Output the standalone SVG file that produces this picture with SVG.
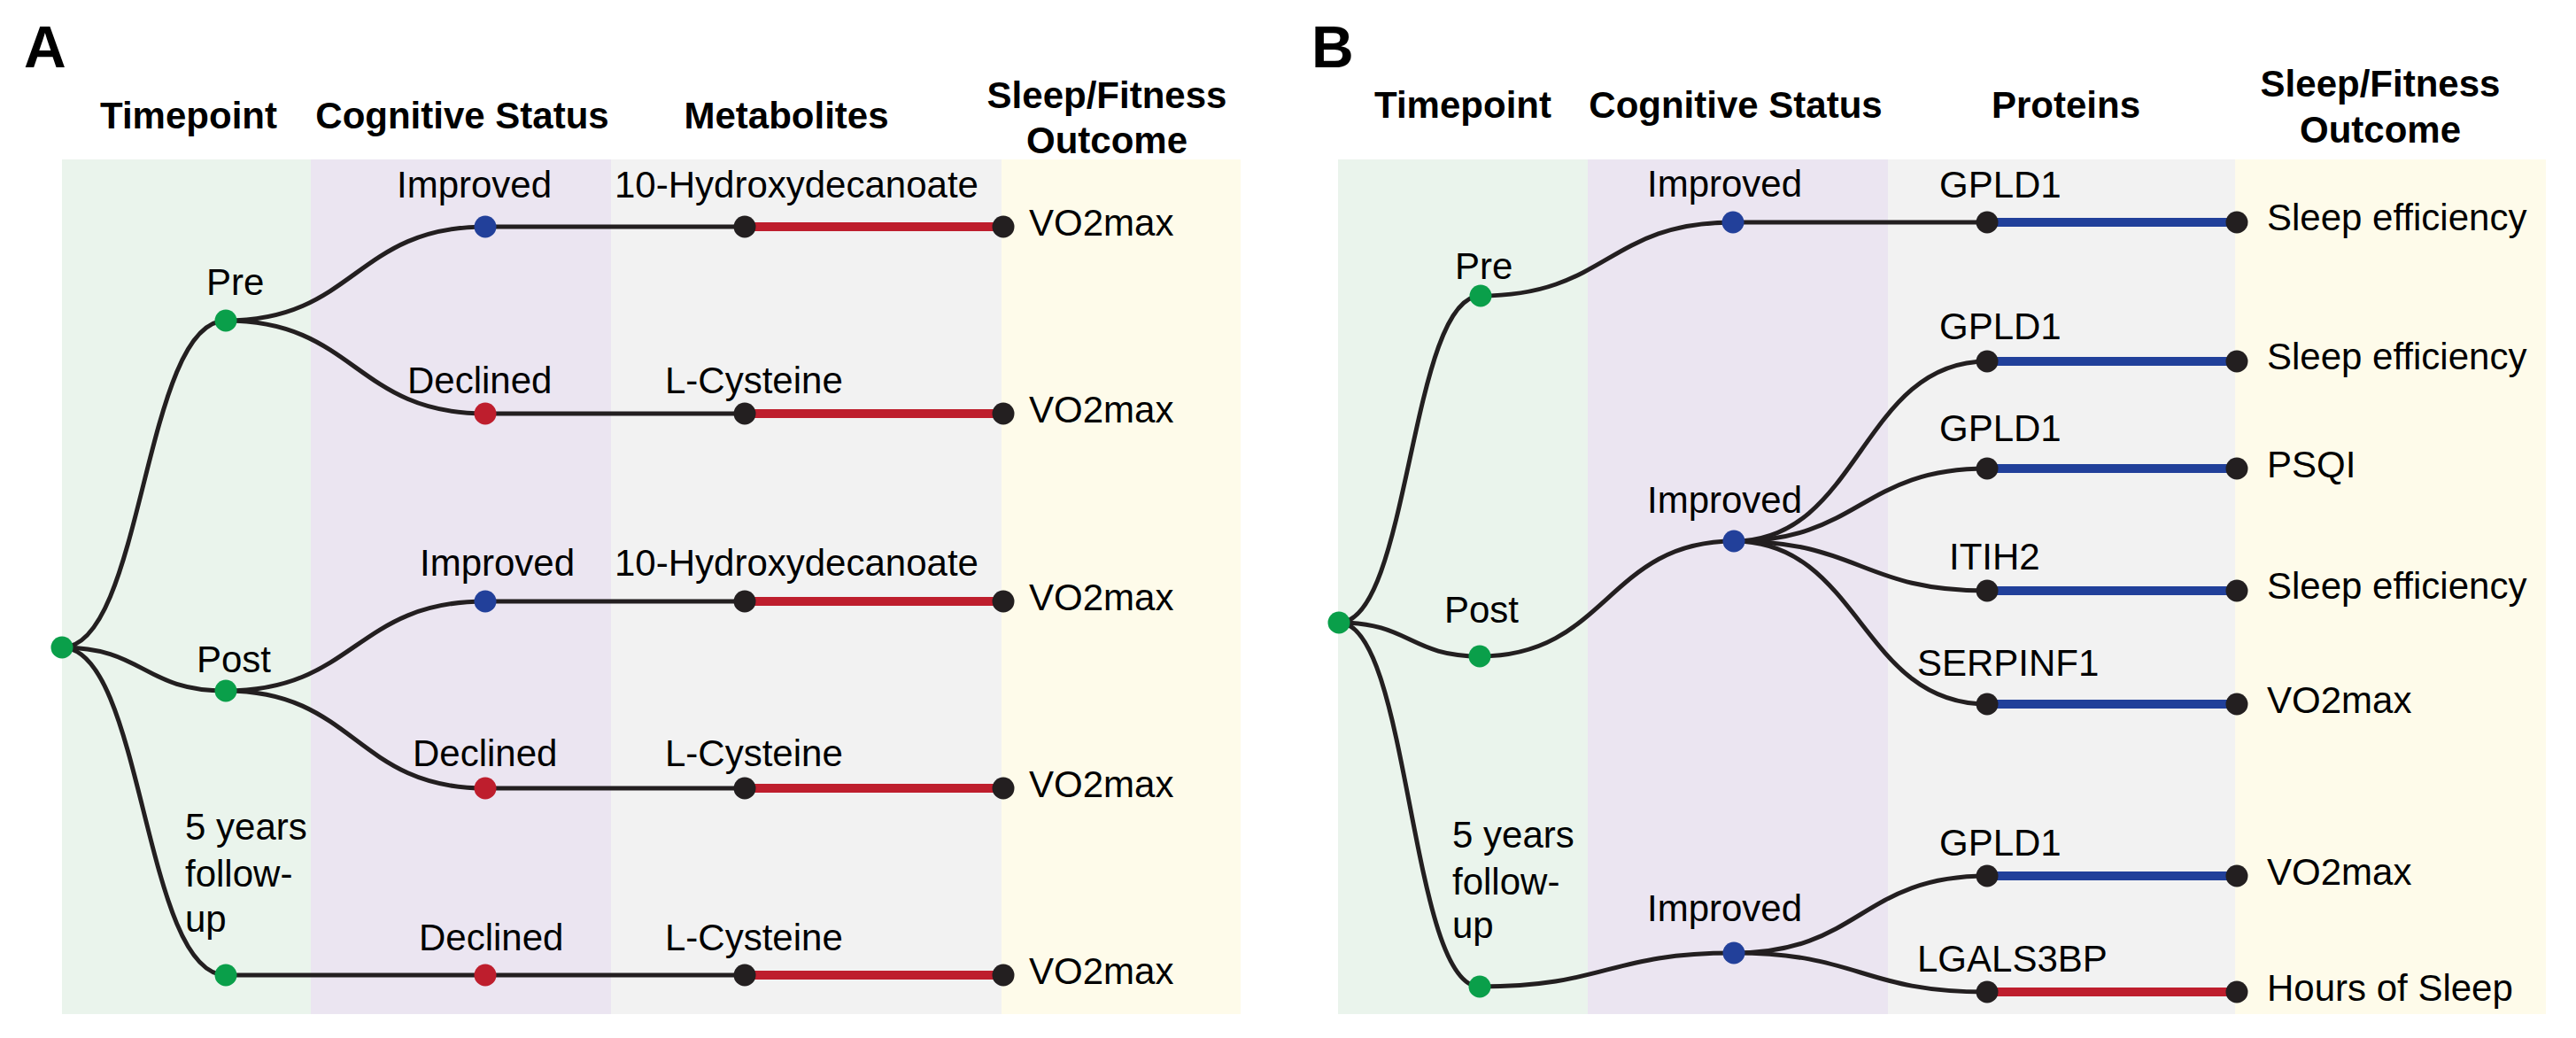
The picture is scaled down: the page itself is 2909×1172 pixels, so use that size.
<svg xmlns="http://www.w3.org/2000/svg" width="2909" height="1172" viewBox="0 0 2909 1172">
<style>
text{font-family:"Liberation Sans",Arial,sans-serif;fill:#000}
.hd{font-weight:bold;font-size:42px;text-anchor:middle}
.pl{font-weight:bold;font-size:66px}
.lb{font-size:42px}
.lk{fill:none;stroke:#231f20;stroke-width:5}
.red{stroke:#be1e2d;stroke-width:10;fill:none}
.blue{stroke:#21409a;stroke-width:10;fill:none}
.g{fill:#0a9f4a}.b{fill:#22409a}.r{fill:#be1e2d}.k{fill:#231f20}
</style>
<rect width="2909" height="1172" fill="#fff"/>
<g id="bands">
<rect x="70" y="180" width="281" height="965" fill="#eaf4ec"/>
<rect x="351" y="180" width="339" height="965" fill="#ebe5f1"/>
<rect x="690" y="180" width="441" height="965" fill="#f2f2f2"/>
<rect x="1131" y="180" width="270" height="965" fill="#fefbea"/>
<rect x="1511" y="180" width="282" height="965" fill="#eaf4ec"/>
<rect x="1793" y="180" width="339" height="965" fill="#ebe5f1"/>
<rect x="2132" y="180" width="392" height="965" fill="#f2f2f2"/>
<rect x="2524" y="180" width="351" height="965" fill="#fefbea"/>
</g>
<g id="headers">
<text class="pl" x="27" y="76">A</text>
<text class="hd" x="213" y="145">Timepoint</text>
<text class="hd" x="522" y="145">Cognitive Status</text>
<text class="hd" x="888" y="145">Metabolites</text>
<text class="hd" x="1250" y="122">Sleep/Fitness</text>
<text class="hd" x="1250" y="173">Outcome</text>
<text class="pl" x="1481" y="76">B</text>
<text class="hd" x="1652" y="133">Timepoint</text>
<text class="hd" x="1960" y="133">Cognitive Status</text>
<text class="hd" x="2333" y="133">Proteins</text>
<text class="hd" x="2688" y="109">Sleep/Fitness</text>
<text class="hd" x="2688" y="161">Outcome</text>
</g>
<g id="connectors">
<path class="lk" d="M70,731 C162,731 162,362 255,362"/>
<path class="lk" d="M70,731 C162,731 162,780 255,780"/>
<path class="lk" d="M70,731 C162,731 162,1101 255,1101"/>
<path class="lk" d="M255,362 C401,362 401,256 548,256"/>
<path class="lk" d="M255,362 C401,362 401,467 548,467"/>
<path class="lk" d="M255,780 C401,780 401,679 548,679"/>
<path class="lk" d="M255,780 C401,780 401,890 548,890"/>
<path class="lk" d="M255,1101 L548,1101"/>
<path class="lk" d="M548,256 L841,256"/>
<path class="lk" d="M548,467 L841,467"/>
<path class="lk" d="M548,679 L841,679"/>
<path class="lk" d="M548,890 L841,890"/>
<path class="lk" d="M548,1101 L841,1101"/>
<path class="red" d="M841,256 L1133,256"/>
<path class="red" d="M841,467 L1133,467"/>
<path class="red" d="M841,679 L1133,679"/>
<path class="red" d="M841,890 L1133,890"/>
<path class="red" d="M841,1101 L1133,1101"/>

<path class="lk" d="M1512,703 C1592,703 1592,334 1672,334"/>
<path class="lk" d="M1512,703 C1592,703 1592,741 1671,741"/>
<path class="lk" d="M1512,703 C1592,703 1592,1114 1671,1114"/>
<path class="lk" d="M1672,334 C1815,334 1815,251 1957,251"/>
<path class="lk" d="M1671,741 C1815,741 1815,611 1958,611"/>
<path class="lk" d="M1671,1114 C1815,1114 1815,1076 1958,1076"/>
<path class="lk" d="M1957,251 L2244,251"/>
<path class="lk" d="M1958,611 C2101,611 2101,408 2244,408"/>
<path class="lk" d="M1958,611 C2101,611 2101,529 2244,529"/>
<path class="lk" d="M1958,611 C2101,611 2101,667 2244,667"/>
<path class="lk" d="M1958,611 C2101,611 2101,795 2244,795"/>
<path class="lk" d="M1958,1076 C2101,1076 2101,989 2244,989"/>
<path class="lk" d="M1958,1076 C2101,1076 2101,1120 2244,1120"/>
<path class="blue" d="M2244,251 L2526,251"/>
<path class="blue" d="M2244,408 L2526,408"/>
<path class="blue" d="M2244,529 L2526,529"/>
<path class="blue" d="M2244,667 L2526,667"/>
<path class="blue" d="M2244,795 L2526,795"/>
<path class="blue" d="M2244,989 L2526,989"/>
<path class="red" d="M2244,1120 L2526,1120"/>
</g>
<g id="nodesA">
<g id="a-root"><circle class="g" cx="70" cy="731" r="12.5"/></g>
<g id="a-pre"><circle class="g" cx="255" cy="362" r="12.5"/><text class="lb" x="233" y="333">Pre</text></g>
<g id="a-post"><circle class="g" cx="255" cy="780" r="12.5"/><text class="lb" x="222" y="759">Post</text></g>
<g id="a-5yr"><circle class="g" cx="255" cy="1101" r="12.5"/><text class="lb" x="209" y="948">5 years</text><text class="lb" x="209" y="1001">follow-</text><text class="lb" x="209" y="1052">up</text></g>
<g id="a-imp1"><circle class="b" cx="548" cy="256" r="12.5"/><text class="lb" x="448" y="223">Improved</text></g>
<g id="a-dec1"><circle class="r" cx="548" cy="467" r="12.5"/><text class="lb" x="460" y="444">Declined</text></g>
<g id="a-imp2"><circle class="b" cx="548" cy="679" r="12.5"/><text class="lb" x="474" y="650">Improved</text></g>
<g id="a-dec2"><circle class="r" cx="548" cy="890" r="12.5"/><text class="lb" x="466" y="865">Declined</text></g>
<g id="a-dec3"><circle class="r" cx="548" cy="1101" r="12.5"/><text class="lb" x="473" y="1073">Declined</text></g>
<g id="a-m1"><circle class="k" cx="841" cy="256" r="12.5"/><text class="lb" x="694" y="223">10-Hydroxydecanoate</text></g>
<g id="a-m2"><circle class="k" cx="841" cy="467" r="12.5"/><text class="lb" x="751" y="444">L-Cysteine</text></g>
<g id="a-m3"><circle class="k" cx="841" cy="679" r="12.5"/><text class="lb" x="694" y="650">10-Hydroxydecanoate</text></g>
<g id="a-m4"><circle class="k" cx="841" cy="890" r="12.5"/><text class="lb" x="751" y="865">L-Cysteine</text></g>
<g id="a-m5"><circle class="k" cx="841" cy="1101" r="12.5"/><text class="lb" x="751" y="1073">L-Cysteine</text></g>
<g id="a-o1"><circle class="k" cx="1133" cy="256" r="12.5"/><text class="lb" x="1162" y="266">VO2max</text></g>
<g id="a-o2"><circle class="k" cx="1133" cy="467" r="12.5"/><text class="lb" x="1162" y="477">VO2max</text></g>
<g id="a-o3"><circle class="k" cx="1133" cy="679" r="12.5"/><text class="lb" x="1162" y="689">VO2max</text></g>
<g id="a-o4"><circle class="k" cx="1133" cy="890" r="12.5"/><text class="lb" x="1162" y="900">VO2max</text></g>
<g id="a-o5"><circle class="k" cx="1133" cy="1101" r="12.5"/><text class="lb" x="1162" y="1111">VO2max</text></g>
</g>
<g id="nodesB">
<g id="b-root"><circle class="g" cx="1512" cy="703" r="12.5"/></g>
<g id="b-pre"><circle class="g" cx="1672" cy="334" r="12.5"/><text class="lb" x="1643" y="315">Pre</text></g>
<g id="b-post"><circle class="g" cx="1671" cy="741" r="12.5"/><text class="lb" x="1631" y="703">Post</text></g>
<g id="b-5yr"><circle class="g" cx="1671" cy="1114" r="12.5"/><text class="lb" x="1640" y="957">5 years</text><text class="lb" x="1640" y="1010">follow-</text><text class="lb" x="1640" y="1059">up</text></g>
<g id="b-imp1"><circle class="b" cx="1957" cy="251" r="12.5"/><text class="lb" x="1860" y="222">Improved</text></g>
<g id="b-imp2"><circle class="b" cx="1958" cy="611" r="12.5"/><text class="lb" x="1860" y="579">Improved</text></g>
<g id="b-imp3"><circle class="b" cx="1958" cy="1076" r="12.5"/><text class="lb" x="1860" y="1040">Improved</text></g>
<g id="b-p1"><circle class="k" cx="2244" cy="251" r="12.5"/><text class="lb" x="2190" y="223">GPLD1</text></g>
<g id="b-p2"><circle class="k" cx="2244" cy="408" r="12.5"/><text class="lb" x="2190" y="383">GPLD1</text></g>
<g id="b-p3"><circle class="k" cx="2244" cy="529" r="12.5"/><text class="lb" x="2190" y="498">GPLD1</text></g>
<g id="b-p4"><circle class="k" cx="2244" cy="667" r="12.5"/><text class="lb" x="2201" y="643">ITIH2</text></g>
<g id="b-p5"><circle class="k" cx="2244" cy="795" r="12.5"/><text class="lb" x="2165" y="763">SERPINF1</text></g>
<g id="b-p6"><circle class="k" cx="2244" cy="989" r="12.5"/><text class="lb" x="2190" y="966">GPLD1</text></g>
<g id="b-p7"><circle class="k" cx="2244" cy="1120" r="12.5"/><text class="lb" x="2165" y="1097">LGALS3BP</text></g>
<g id="b-o1"><circle class="k" cx="2526" cy="251" r="12.5"/><text class="lb" x="2560" y="260">Sleep efficiency</text></g>
<g id="b-o2"><circle class="k" cx="2526" cy="408" r="12.5"/><text class="lb" x="2560" y="417">Sleep efficiency</text></g>
<g id="b-o3"><circle class="k" cx="2526" cy="529" r="12.5"/><text class="lb" x="2560" y="539">PSQI</text></g>
<g id="b-o4"><circle class="k" cx="2526" cy="667" r="12.5"/><text class="lb" x="2560" y="676">Sleep efficiency</text></g>
<g id="b-o5"><circle class="k" cx="2526" cy="795" r="12.5"/><text class="lb" x="2560" y="805">VO2max</text></g>
<g id="b-o6"><circle class="k" cx="2526" cy="989" r="12.5"/><text class="lb" x="2560" y="999">VO2max</text></g>
<g id="b-o7"><circle class="k" cx="2526" cy="1120" r="12.5"/><text class="lb" x="2560" y="1130">Hours of Sleep</text></g>
</g>
</svg>
